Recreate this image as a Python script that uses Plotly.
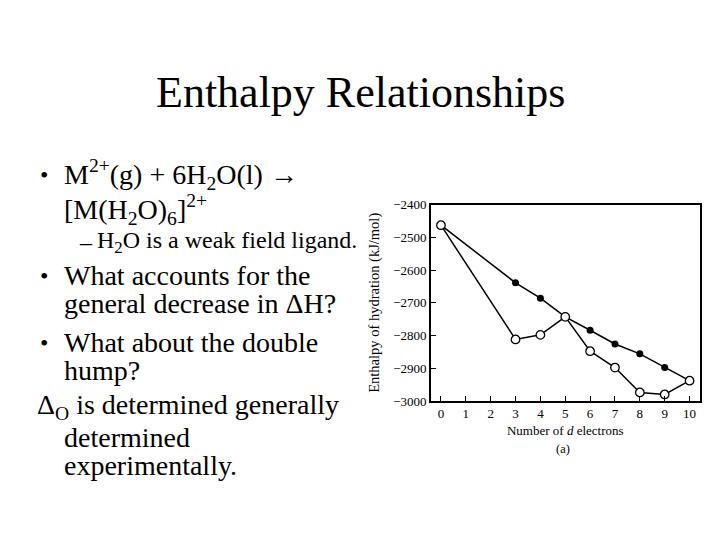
import plotly.graph_objects as go

# ---- data ----
d_electrons = [0, 3, 4, 5, 6, 7, 8, 9, 10]
enthalpy_smooth = [-2463, -2639, -2686, -2743, -2784, -2826, -2856, -2898, -2938]
enthalpy_observed = [-2463, -2812, -2798, -2743, -2848, -2898, -2974, -2980, -2938]
x_tick_vals = [0, 1, 2, 3, 4, 5, 6, 7, 8, 9, 10]
y_tick_vals = [-3000, -2900, -2800, -2700, -2600, -2500, -2400]

W, H = 720, 540
OX, OY = 8, 8  # page body margin offset
SERIF = "Liberation Serif, Times New Roman, serif"


def px(x):
    return (x - OX) / W


def py(y):
    return 1 - (y - OY) / H


fig = go.Figure()
fig.add_trace(go.Scatter(
    x=d_electrons, y=enthalpy_smooth, mode="lines+markers",
    line=dict(color="black", width=1.5),
    marker=dict(symbol="circle", size=7, color="black"),
    hoverinfo="skip",
))
fig.add_trace(go.Scatter(
    x=d_electrons, y=enthalpy_observed, mode="lines+markers",
    line=dict(color="black", width=1.5),
    marker=dict(symbol="circle", size=8.5, color="white",
                line=dict(color="black", width=1.3)),
    hoverinfo="skip",
))

axis_common = dict(
    showline=True, linecolor="black", linewidth=1.6, mirror=True,
    showgrid=False, zeroline=False, ticks="inside", ticklen=5,
    tickwidth=1.4, tickcolor="black",
    tickfont=dict(family=SERIF, size=13, color="black"),
)

fig.update_layout(
    width=W, height=H,
    margin=dict(l=0, r=0, t=0, b=0),
    paper_bgcolor="white", plot_bgcolor="white",
    showlegend=False,
    xaxis=dict(
        domain=[px(431), px(699.5)], range=[-0.4, 10.4],
        tickvals=x_tick_vals,
        title=dict(text="Number of <i>d</i> electrons",
                   font=dict(family=SERIF, size=13, color="black"), standoff=6),
        **axis_common,
    ),
    yaxis=dict(
        domain=[py(405), py(203)], range=[-3000, -2400],
        tickvals=y_tick_vals,
        title=dict(text="Enthalpy of hydration (kJ/mol)",
                   font=dict(family=SERIF, size=14.5, color="black"), standoff=10),
        **axis_common,
    ),
)

annotations = []


def add_text(text, x, y, size, xanchor="left"):
    annotations.append(dict(
        text=text, x=px(x), y=py(y), xref="paper", yref="paper",
        xanchor=xanchor, yanchor="middle", showarrow=False,
        font=dict(family=SERIF, size=size, color="black"),
    ))


# title
add_text("Enthalpy Relationships", 360, 88, 44, xanchor="center")

# bullet list
add_text("•", 38, 173, 24)
add_text("M<sup>2+</sup>(g) + 6H<sub>2</sub>O(l) →", 62, 172, 28)
add_text("[M(H<sub>2</sub>O)<sub>6</sub>]<sup>2+</sup>", 62, 208, 28)
add_text("–", 77, 241, 24)
add_text("H<sub>2</sub>O is a weak field ligand.", 95, 241, 24)
add_text("•", 38, 276, 24)
add_text("What accounts for the", 62, 276, 28)
add_text("general decrease in ΔH?", 62, 305, 28)
add_text("•", 38, 345, 24)
add_text("What about the double", 62, 345, 28)
add_text("hump?", 62, 374, 28)
add_text("Δ<sub>O</sub> is determined generally", 35, 411, 28)
add_text("determined", 62, 443, 28)
add_text("experimentally.", 62, 471, 28)

# figure caption
add_text("(a)", 563, 454, 12.5, xanchor="center")

fig.update_layout(annotations=annotations)

fig.write_html("out.html")
